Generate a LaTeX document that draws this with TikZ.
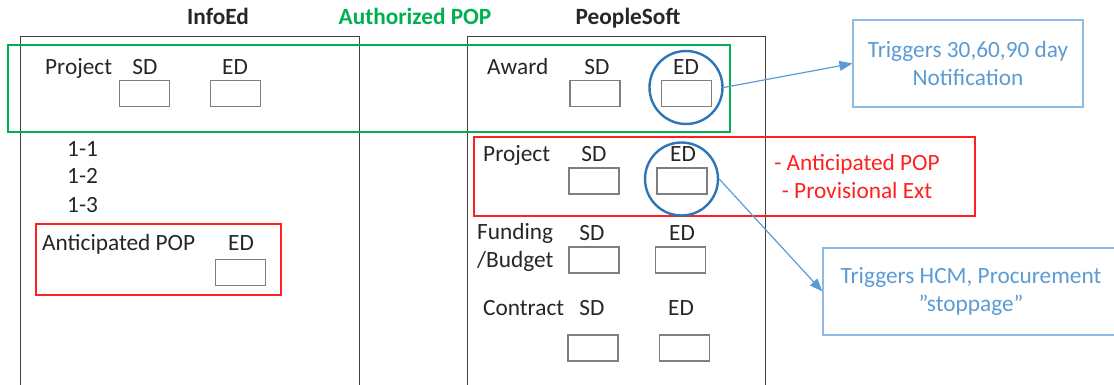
\documentclass[tikz,border=0pt]{standalone}
\usepackage{fontspec}
\setmainfont{Carlito}
\usetikzlibrary{arrows.meta}

\definecolor{inkgray}{HTML}{262626}
\definecolor{framegray}{HTML}{404040}
\definecolor{fieldgray}{HTML}{7F7F7F}
\definecolor{popgreen}{HTML}{00B050}
\definecolor{warnred}{HTML}{FF2020}
\definecolor{ringblue}{HTML}{2E75B6}
\definecolor{noteblue}{HTML}{5B9BD5}
\definecolor{noteedge}{HTML}{8FBBE3}

\tikzset{
    lbl/.style={
        inner sep=0pt, text=inkgray,
        font=\fontsize{23.3}{28}\selectfont
    },
    title/.style={lbl, font=\fontsize{23.3}{28}\selectfont\bfseries},
    field/.style={
        rectangle, draw=fieldgray, line width=1.4pt,
        minimum width=50pt, minimum height=26pt,
        inner sep=0pt, fill=white
    },
    frame/.style={draw=framegray, line width=1pt},
    popbox/.style={draw=popgreen, line width=2pt},
    warnbox/.style={draw=warnred, line width=1.6pt},
    ring/.style={
        circle, draw=ringblue, line width=2.4pt,
        minimum size=73pt, inner sep=0pt
    },
    callout/.style={
        rectangle, draw=noteedge, line width=1.2pt,
        text=noteblue, align=center, inner sep=0pt,
        font=\fontsize{23.3}{28}\selectfont
    },
    link/.style={
        draw=noteblue, line width=1.2pt,
        -{Triangle[length=13pt, width=10pt]}
    }
}

\begin{document}
\begin{tikzpicture}[x=1pt, y=-1pt]
\useasboundingbox (0,0) rectangle (1114,385);
\clip (0,0) rectangle (1114,385);

% System columns
\node[title, anchor=base] (infoed) at (218,25) {InfoEd};
\node[title, anchor=base] (psoft) at (628,25) {PeopleSoft};
\draw[frame] (20,400) -- (20,37) -- (359,37) -- (359,400);
\draw[frame] (467,400) -- (467,37) -- (765,37) -- (765,400);

% Authorized POP band
\node[title, anchor=base, text=popgreen] (authpop) at (415,25) {Authorized POP};
\draw[popbox] (8,45) rectangle (730,132);

% InfoEd project dates
\node[lbl, anchor=base west] (iproj) at (45,75) {Project};
\node[lbl, anchor=base] at (145,75) {SD};
\node[lbl, anchor=base] at (235,75) {ED};
\node[field] (ipsd) at (144.5,93.5) {};
\node[field] (iped) at (235.5,93.5) {};

\node[lbl, anchor=base west] (sub1) at (67,157) {1-1};
\node[lbl, anchor=base west] (sub2) at (67,183) {1-2};
\node[lbl, anchor=base west] (sub3) at (67,212) {1-3};

% Anticipated POP (InfoEd)
\draw[warnbox] (36,224) rectangle (281,295);
\node[lbl, anchor=base west] (iantic) at (42,250) {Anticipated POP};
\node[lbl, anchor=base] at (241,250) {ED};
\node[field] (iaed) at (240.5,272.5) {};

% PeopleSoft award
\node[lbl, anchor=base west] (award) at (487,75) {Award};
\node[lbl, anchor=base] at (597,75) {SD};
\node[lbl, anchor=base] at (686,75) {ED};
\node[field] (awsd) at (595,93.5) {};
\node[field] (awed) at (686.5,93.5) {};

% PeopleSoft project
\draw[warnbox] (474,137) rectangle (975,216);
\node[lbl, anchor=base west] (pproj) at (483,162) {Project};
\node[lbl, anchor=base] at (594,162) {SD};
\node[lbl, anchor=base] at (683,162) {ED};
\node[field] (pjsd) at (594,181) {};
\node[field] (pjed) at (682,181) {};
% base of a two-line node sits on its last line
\node[lbl, align=center, text=warnred, anchor=base] (pjnote) at (857,198)
    {- Anticipated POP\\- Provisional Ext};

% Funding / Budget
\node[lbl, anchor=base west, align=left] (fund) at (477,267) {Funding\\/Budget};
\node[lbl, anchor=base] at (592,240) {SD};
\node[lbl, anchor=base] at (682,240) {ED};
\node[field] (fbsd) at (594,260) {};
\node[field] (fbed) at (680.5,260) {};

% Contract
\node[lbl, anchor=base west] (contract) at (483,315) {Contract};
\node[lbl, anchor=base] at (592,315) {SD};
\node[lbl, anchor=base] at (681,315) {ED};
\node[field] (ctsd) at (593,348) {};
\node[field] (cted) at (684.5,348) {};

% End dates that trigger actions
\node[ring] (awring) at (686,87.5) {};
\node[ring] (pjring) at (681.5,179) {};

\node[callout, minimum width=230pt, minimum height=87pt] (notif) at (968,63.5)
    {Triggers 30,60,90 day\\Notification};
\node[callout, minimum width=296pt, minimum height=87pt] (hcm) at (971,291.5)
    {Triggers HCM, Procurement\\”stoppage”};

\draw[link] (awring.east) -- (notif.west);
\draw[link] (pjring.east) -- (hcm.west);

\end{tikzpicture}
\end{document}
